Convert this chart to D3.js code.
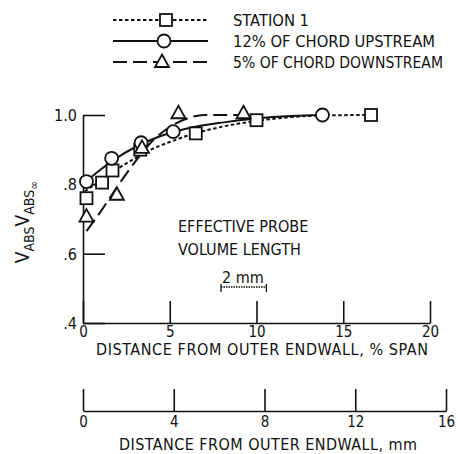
<!DOCTYPE html>
<html>
<head>
<meta charset="utf-8">
<script src="https://cdn.jsdelivr.net/npm/d3@7"></script>
<style>
    body { margin: 0; background: #fff; }
    svg { display: block; }
    text { font-family: "DejaVu Sans Condensed", "Liberation Sans Narrow", sans-serif; fill: #111; }
    .axis path, .axis line { stroke: #111; stroke-width: 1.6; }
    .axis text { font-size: 15px; }
</style>
</head>
<body>
<div id="chart"></div>
<script>
// Data (x in % span, y = Vabs / Vabs_inf)
const seriesNames = ["STATION 1", "12% OF CHORD UPSTREAM", "5% OF CHORD DOWNSTREAM"];

const station1X = [0.2, 1.1, 1.7, 3.3, 6.5, 10.0, 16.6];
const station1Y = [0.76, 0.805, 0.84, 0.90, 0.947, 0.985, 1.0];

const upstreamX = [0.2, 1.65, 3.35, 5.2, 13.8];
const upstreamY = [0.808, 0.875, 0.92, 0.952, 1.0];

const downstreamX = [0.2, 1.95, 3.4, 5.5, 9.25];
const downstreamY = [0.707, 0.77, 0.905, 1.005, 1.005];

// faired curves drawn through the data
const station1CurveX = [0.1, 1, 2, 3, 4, 5, 6, 8, 10, 12, 14, 16.6];
const station1CurveY = [0.78, 0.81, 0.845, 0.875, 0.902, 0.922, 0.94, 0.966, 0.983, 0.994, 0.999, 1.0];

const upstreamCurveX = [0.1, 1, 2, 3, 4, 5, 6, 8, 10, 12, 13.8];
const upstreamCurveY = [0.805, 0.842, 0.878, 0.907, 0.93, 0.948, 0.961, 0.978, 0.99, 0.997, 1.0];

const downstreamCurveX = [0.2, 1, 2, 3, 4, 5, 6, 7, 10];
const downstreamCurveY = [0.665, 0.72, 0.795, 0.865, 0.925, 0.965, 0.99, 1.0, 1.0];

const yTicks = [0.4, 0.6, 0.8, 1.0];
const yTickLabels = [".4", ".6", ".8", "1.0"];
const xTicks = [0, 5, 10, 15, 20];
const mmTicks = [0, 4, 8, 12, 16];
const probeLengthMm = 2;

const width = 458;
const height = 454;

const svg = d3.select("#chart")
              .append("svg")
              .attr("width", width)
              .attr("height", height);

const x = d3.scaleLinear().domain([0, 20]).range([83, 430]);
const y = d3.scaleLinear().domain([0.4, 1.0]).range([323, 115]);
const mm = d3.scaleLinear().domain([0, 16]).range([83, 446]);

// Axes
svg.append("g")
   .attr("class", "axis")
   .attr("transform", `translate(${x(0)},0)`)
   .call(d3.axisLeft(y).tickValues(yTicks).tickSizeInner(-22).tickSizeOuter(0)
           .tickPadding(6).tickFormat((d, i) => yTickLabels[i]))
   .call(g => g.selectAll("text").attr("dy", "0.35em").style("font-size", "16px"));

svg.append("g")
   .attr("class", "axis")
   .attr("transform", `translate(0,${y(0.4)})`)
   .call(d3.axisBottom(x).tickValues(xTicks).tickSizeInner(-22).tickSizeOuter(0).tickPadding(3));

svg.append("g")
   .attr("class", "axis")
   .attr("transform", "translate(0,411)")
   .call(d3.axisBottom(mm).tickValues(mmTicks).tickSizeInner(-22).tickSizeOuter(0).tickPadding(5));

// Axis titles
svg.append("text")
   .attr("x", 262).attr("y", 355)
   .attr("text-anchor", "middle")
   .style("font-size", "16px")
   .attr("textLength", 332)
   .text("DISTANCE FROM OUTER ENDWALL, % SPAN");

svg.append("text")
   .attr("x", 268).attr("y", 450)
   .attr("text-anchor", "middle")
   .style("font-size", "16px")
   .attr("textLength", 298)
   .text("DISTANCE FROM OUTER ENDWALL, mm");

const yLabel = svg.append("text")
                  .attr("transform", "translate(29,222) rotate(-90)")
                  .attr("text-anchor", "middle")
                  .style("font-size", "19px");
yLabel.append("tspan").text("V");
yLabel.append("tspan").attr("dy", 5).style("font-size", "14px").text("ABS");
yLabel.append("tspan").attr("dy", -5).text("V");
yLabel.append("tspan").attr("dy", 5).style("font-size", "14px").text("ABS");
yLabel.append("tspan").attr("dy", 4).style("font-size", "12px").text("\u221e");

// Annotation: effective probe volume length
svg.append("text").attr("x", 178).attr("y", 232).style("font-size", "16px").text("EFFECTIVE PROBE");
svg.append("text").attr("x", 178).attr("y", 255).style("font-size", "16px").text("VOLUME LENGTH");
svg.append("text").attr("x", 243).attr("y", 283).attr("text-anchor", "middle").style("font-size", "16px").text("2 mm");

const barX0 = mm(0) + 138;
const barX1 = barX0 + (mm(probeLengthMm) - mm(0));
svg.append("line")
   .attr("x1", barX0).attr("x2", barX1).attr("y1", 287).attr("y2", 287)
   .attr("stroke", "#111").attr("stroke-width", 1.3).attr("stroke-dasharray", "1.5,1");
[barX0, barX1].forEach(bx => {
    svg.append("line")
       .attr("x1", bx).attr("x2", bx).attr("y1", 284).attr("y2", 292)
       .attr("stroke", "#111").attr("stroke-width", 1.3);
});

// Curves
const line = d3.line().x(d => x(d[0])).y(d => y(d[1])).curve(d3.curveMonotoneX);
const styles = [
    { dash: "3.5,2.5", width: 2 },
    { dash: null, width: 2 },
    { dash: "14,6", width: 2 }
];
const curves = [
    d3.zip(station1CurveX, station1CurveY),
    d3.zip(upstreamCurveX, upstreamCurveY),
    d3.zip(downstreamCurveX, downstreamCurveY)
];
curves.forEach((pts, i) => {
    svg.append("path")
       .attr("d", line(pts))
       .attr("fill", "none")
       .attr("stroke", "#111")
       .attr("stroke-width", styles[i].width)
       .attr("stroke-dasharray", styles[i].dash);
});

// Markers
function drawMarker(g, kind, cx, cy) {
    if (kind === 0) {
        g.append("rect").attr("x", cx - 6).attr("y", cy - 6).attr("width", 12).attr("height", 12);
    } else if (kind === 1) {
        g.append("circle").attr("cx", cx).attr("cy", cy).attr("r", 6.5);
    } else {
        g.append("path").attr("d", `M${cx},${cy - 7.5}L${cx + 7},${cy + 5}L${cx - 7},${cy + 5}Z`);
    }
}
const markerGroup = svg.append("g").attr("fill", "#fff").attr("stroke", "#111").attr("stroke-width", 1.8);
[[station1X, station1Y], [upstreamX, upstreamY], [downstreamX, downstreamY]].forEach(([xs, ys], i) => {
    xs.forEach((v, j) => drawMarker(markerGroup, i, x(v), y(ys[j])));
});

// Legend
const legendRows = [20, 41, 62];
const legendTextLen = [76, 202, 210];
seriesNames.forEach((name, i) => {
    const ly = legendRows[i];
    svg.append("line")
       .attr("x1", 113).attr("x2", 208).attr("y1", ly).attr("y2", ly)
       .attr("stroke", "#111").attr("stroke-width", styles[i].width)
       .attr("stroke-dasharray", styles[i].dash);
    drawMarker(markerGroup, i, [166, 164, 162][i], ly);
    svg.append("text")
       .attr("x", 233).attr("y", ly + 6)
       .style("font-size", "16px")
       .attr("textLength", legendTextLen[i])
       .attr("lengthAdjust", "spacingAndGlyphs")
       .text(name);
});
markerGroup.raise();
</script>
</body>
</html>
